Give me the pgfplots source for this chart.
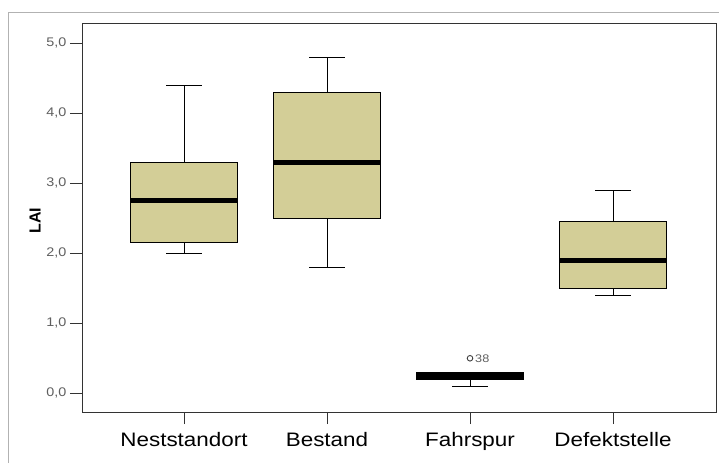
\documentclass[border=0pt]{standalone}
\usepackage{pgfplots}
\pgfplotsset{compat=1.18}
\usepgfplotslibrary{statistics}
\usepackage{fontspec}
\setmainfont{Liberation Sans}[FakeStretch=1.15]
\newfontfamily\plainsf{Liberation Sans}
\definecolor{boxfill}{RGB}{211,206,151}
\definecolor{ticklab}{RGB}{95,95,95}

\begin{document}
\begin{tikzpicture}
\useasboundingbox (0,0) rectangle (719pt,463pt);
% outer frame (only top and left visible)
\draw[black!30, line width=0.8pt] (8pt,0) -- (8pt,451pt) -- (719pt,451pt);
\begin{axis}[
    at={(82pt,51pt)}, anchor=south west,
    scale only axis,
    width=634pt, height=389pt,
    xmin=0.287, xmax=4.72,
    ymin=-0.267, ymax=5.287,
    axis line style={black!80, line width=0.9pt},
    xtick={1,2,3,4},
    xticklabels={Neststandort,Bestand,Fahrspur,Defektstelle},
    ytick={0,1,2,3,4,5},
    xtick pos=bottom, ytick pos=left,
    tick align=outside, major tick length=12pt,
    tick style={black!80, line width=0.9pt},
    /pgf/number format/.cd, fixed, fixed zerofill, precision=1, use comma, assume math mode=true,
    /pgfplots/.cd,
    yticklabel style={font=\fontsize{12.5}{14}\selectfont, text=ticklab},
    xticklabel style={font=\fontsize{19.5}{22}\selectfont, text=black, yshift=-5pt},
    ylabel={LAI},
    ylabel style={at={(rel axis cs:-0.074,0.492)}, anchor=center,
        font=\plainsf\fontsize{16}{18}\selectfont\bfseries},
    boxplot/draw direction=y,
    boxplot/box extend=0.745,
    boxplot/whisker extend=0.25,
    boxplot/every box/.style={draw=black, fill=boxfill},
    boxplot/every median/.style={line width=5pt},
]
% Neststandort
\addplot[black, line width=0.9pt, boxplot prepared={
    draw position=1,
    lower whisker=2.0, lower quartile=2.15, median=2.75,
    upper quartile=3.3, upper whisker=4.4}] coordinates {};
% Bestand
\addplot[black, line width=0.9pt, boxplot prepared={
    draw position=2,
    lower whisker=1.8, lower quartile=2.5, median=3.3,
    upper quartile=4.3, upper whisker=4.8}] coordinates {};
% Fahrspur (with outlier 38)
\addplot[black, line width=0.9pt, mark=o, mark size=2.8pt,
    mark options={black!75, line width=0.9pt},
    boxplot/every box/.style={draw=black, fill=black},
    boxplot prepared={
    draw position=3,
    lower whisker=0.1, lower quartile=0.2, median=0.25,
    upper quartile=0.3, upper whisker=0.3}] table[row sep=\\, y index=0] {0.5\\};
% Defektstelle
\addplot[black, line width=0.9pt, boxplot prepared={
    draw position=4,
    lower whisker=1.4, lower quartile=1.5, median=1.9,
    upper quartile=2.45, upper whisker=2.9}] coordinates {};
\node[anchor=west, inner sep=0pt, text=ticklab, font=\fontsize{11}{13}\selectfont]
    at (axis cs:3.035,0.5) {38};
\end{axis}
\end{tikzpicture}
\end{document}
